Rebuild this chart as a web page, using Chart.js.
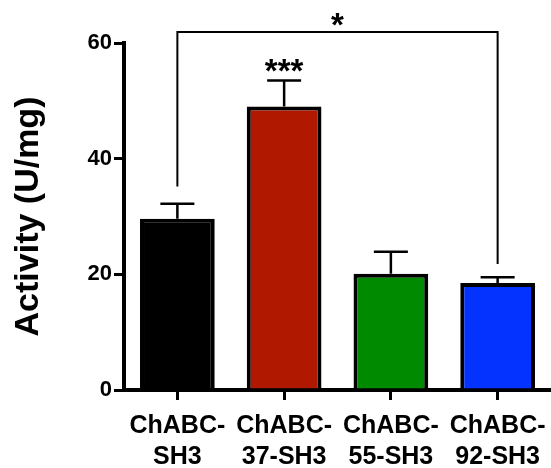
<!DOCTYPE html>
<html>
<head>
<title>Activity</title>
<script src="https://cdn.jsdelivr.net/npm/chart.js@4.4.1/dist/chart.umd.min.js"></script>
<style>
body { margin: 0; background: #fff; }
</style>
</head>
<body>
<canvas id="chart" width="551" height="468"></canvas>
<script>
// data
const categories = [["ChABC-", "SH3"], ["ChABC-", "37-SH3"], ["ChABC-", "55-SH3"], ["ChABC-", "92-SH3"]];
const activity = [29.6, 49.0, 20.1, 18.5];
const errorUp = [2.6, 4.5, 3.8, 1.0];
const barColors = ["#000000", "#b01800", "#008a00", "#0433ff"];
const yTicks = [0, 20, 40, 60];
const starLabels = ["", "***", "", ""];
// comparison bracket between first and last bar (data units)
const bracketFrom = 0, bracketTo = 3;
const bracketTop = 61.9, bracketLeftEnd = 35.2, bracketRightEnd = 21.8;
const bracketLabel = "*";

const FONT = '"Liberation Sans", Arial, Helvetica, sans-serif';

const annotate = {
  id: "annotate",
  afterDatasetsDraw(chart) {
    const ctx = chart.ctx, x = chart.scales.x, y = chart.scales.y;
    ctx.save();
    ctx.strokeStyle = "#000";
    ctx.fillStyle = "#000";
    ctx.lineCap = "butt";

    // error bars (upper only)
    ctx.lineWidth = 2.5;
    activity.forEach((v, i) => {
      const cx = x.getPixelForValue(i);
      const y0 = y.getPixelForValue(v);
      const y1 = y.getPixelForValue(v + errorUp[i]);
      ctx.beginPath();
      ctx.moveTo(cx, y0);
      ctx.lineTo(cx, y1);
      ctx.moveTo(cx - 17, y1);
      ctx.lineTo(cx + 17, y1);
      ctx.stroke();
    });

    ctx.font = "bold 33px " + FONT;
    ctx.textAlign = "center";
    ctx.textBaseline = "alphabetic";
    starLabels.forEach((s, i) => {
      if (!s) return;
      const cx = x.getPixelForValue(i);
      const y1 = y.getPixelForValue(activity[i] + errorUp[i]);
      ctx.fillText(s, cx, y1 + 1);
    });

    // bracket
    ctx.lineWidth = 2;
    const xl = x.getPixelForValue(bracketFrom), xr = x.getPixelForValue(bracketTo);
    const yt = y.getPixelForValue(bracketTop);
    ctx.beginPath();
    ctx.moveTo(xl, y.getPixelForValue(bracketLeftEnd));
    ctx.lineTo(xl, yt);
    ctx.lineTo(xr, yt);
    ctx.lineTo(xr, y.getPixelForValue(bracketRightEnd));
    ctx.stroke();
    ctx.fillText(bracketLabel, (xl + xr) / 2, yt + 4);
    ctx.restore();
  }
};

new Chart(document.getElementById("chart"), {
  type: "bar",
  data: {
    labels: categories,
    datasets: [{
      data: activity,
      backgroundColor: barColors,
      borderColor: "#000",
      borderWidth: 4,
      barPercentage: 0.7,
      categoryPercentage: 1.0
    }]
  },
  options: {
    responsive: false,
    animation: false,
    layout: { padding: { top: 43, right: 0, left: 0, bottom: 0 } },
    plugins: { legend: { display: false }, tooltip: { enabled: false } },
    scales: {
      x: {
        afterFit(scale) {
          scale.height = 78;
          scale.paddingLeft = 0;
          scale.paddingRight = 0;
        },
        grid: { drawOnChartArea: false, color: "#000", lineWidth: 3, tickLength: 10, offset: false },
        border: { color: "#000", width: 4 },
        ticks: {
          color: "#000",
          padding: 10,
          maxRotation: 0,
          font: { family: FONT, size: 25, weight: "bold", lineHeight: 1.25 }
        }
      },
      y: {
        min: 0,
        max: 60,
        afterFit(scale) { scale.width = 124; },
        afterBuildTicks(scale) { scale.ticks = yTicks.map(v => ({ value: v })); },
        grid: { drawOnChartArea: false, color: "#000", lineWidth: 3, tickLength: 10 },
        border: { color: "#000", width: 4 },
        ticks: {
          color: "#000",
          padding: 2,
          font: { family: FONT, size: 22, weight: "bold" }
        },
        title: {
          display: true,
          text: "Activity (U/mg)",
          color: "#000",
          padding: { top: 8, bottom: 0 },
          font: { family: FONT, size: 34, weight: "bold" }
        }
      }
    }
  },
  plugins: [annotate]
});
</script>
</body>
</html>
